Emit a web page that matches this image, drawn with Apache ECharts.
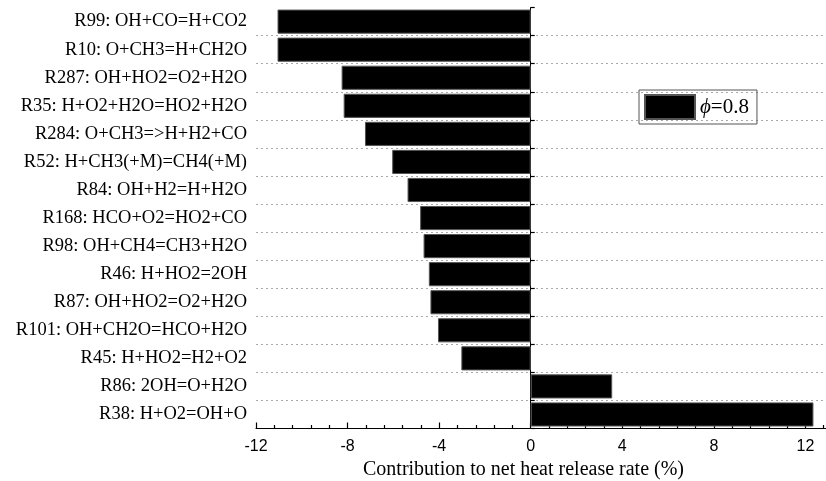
<!DOCTYPE html>
<html>
<head>
<meta charset="utf-8">
<script src="https://cdn.jsdelivr.net/npm/echarts@6/dist/echarts.min.js"></script>
<style>html,body{margin:0;padding:0;background:#fff;}#c{width:826px;height:481px;}</style>
</head>
<body>
<div id="c"></div>
<script>
const categories = [
  'R99: OH+CO=H+CO2',
  'R10: O+CH3=H+CH2O',
  'R287: OH+HO2=O2+H2O',
  'R35: H+O2+H2O=HO2+H2O',
  'R284: O+CH3=>H+H2+CO',
  'R52: H+CH3(+M)=CH4(+M)',
  'R84: OH+H2=H+H2O',
  'R168: HCO+O2=HO2+CO',
  'R98: OH+CH4=CH3+H2O',
  'R46: H+HO2=2OH',
  'R87: OH+HO2=O2+H2O',
  'R101: OH+CH2O=HCO+H2O',
  'R45: H+HO2=H2+O2',
  'R86: 2OH=O+H2O',
  'R38: H+O2=OH+O'
];
const values = [-11.06, -11.06, -8.26, -8.17, -7.24, -6.05, -5.38, -4.83, -4.68, -4.45, -4.38, -4.05, -3.03, 3.56, 12.35];
const seriesName = 'ϕ=0.8';
const xMin = -12, xMax = 16, majorStep = 4;

const chart = echarts.init(document.getElementById('c'));
const serif = 'Liberation Serif';
chart.setOption({
  animation: false,
  backgroundColor: '#fff',
  grid: { left: 256, right: -71, top: 7.6, bottom: 52.5, containLabel: false, outerBoundsMode: 'none' },
  legend: {
    left: 639, top: 90,
    padding: [4, 8, 4, 5],
    borderColor: '#555', borderWidth: 1,
    itemWidth: 50, itemHeight: 24, itemGap: 5,
    icon: 'rect',
    formatter: function () { return '{i|ϕ}=0.8'; },
    textStyle: {
      fontFamily: serif, fontSize: 21, color: '#000',
      rich: { i: { fontFamily: serif, fontSize: 21, fontStyle: 'italic', color: '#000' } }
    },
    data: [seriesName]
  },
  xAxis: {
    type: 'value', min: xMin, max: xMax, interval: majorStep,
    position: 'bottom',
    name: 'Contribution to net heat release rate (%)',
    nameLocation: 'middle', nameGap: 27,
    nameTextStyle: { fontFamily: serif, fontSize: 20, color: '#000', padding: [0, 106, 0, 0] },
    axisLine: { show: true, onZero: false, lineStyle: { color: '#000', width: 1 } },
    axisTick: { show: true, inside: true, length: 6, lineStyle: { color: '#000', width: 1.2 } },
    minorTick: { show: true, splitNumber: 5, length: 3.5, lineStyle: { color: '#000', width: 1.2 } },
    axisLabel: { show: true, margin: 10, showMaxLabel: false, fontFamily: 'Liberation Sans', fontSize: 16, color: '#000' },
    splitLine: { show: false }
  },
  yAxis: [
    {
      type: 'category', inverse: true, data: categories, position: 'left',
      axisLine: { show: false, onZero: false },
      axisTick: { show: false },
      axisLabel: { margin: 9, fontFamily: serif, fontSize: 18.5, color: '#000', interval: 0 },
      splitLine: { show: true, interval: function (i) { return i !== 0; }, lineStyle: { color: '#aaa', width: 1, type: [2, 3] } }
    },
    {
      type: 'category', inverse: true, data: categories, position: 'right',
      axisLine: { show: true, onZero: true, onZeroAxisIndex: 0, lineStyle: { color: '#000', width: 1 } },
      axisTick: { show: true, length: 4, interval: 0, lineStyle: { color: '#000', width: 1.2 } },
      axisLabel: { show: false },
      splitLine: { show: false }
    }
  ],
  series: [{
    name: seriesName,
    type: 'bar',
    xAxisIndex: 0, yAxisIndex: 0,
    data: values,
    barCategoryGap: '14%',
    itemStyle: { color: '#000', borderColor: '#555', borderWidth: 1 }
  }]
});
</script>
</body>
</html>
